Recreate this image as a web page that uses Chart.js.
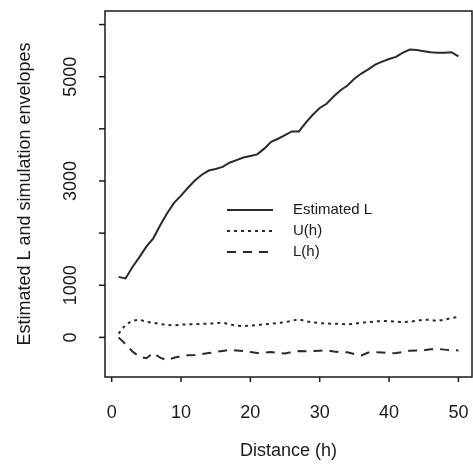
<!DOCTYPE html>
<html>
<head>
<meta charset="utf-8">
<script src="https://cdn.jsdelivr.net/npm/chart.js@4.4.1/dist/chart.umd.min.js"></script>
<style>
  body { margin: 0; background: #fff; }
  #plot { display: block; }
</style>
</head>
<body>
<canvas id="plot" width="473" height="472"></canvas>
<script>
const distances = [1, 2, 3, 4, 5, 6, 7, 8, 9, 10, 11, 12, 13, 14, 15, 16, 17, 18, 19, 20,
  21, 22, 23, 24, 25, 26, 27, 28, 29, 30, 31, 32, 33, 34, 35, 36, 37, 38, 39, 40,
  41, 42, 43, 44, 45, 46, 47, 48, 49, 50];
const estimatedL = [1160, 1130, 1350, 1540, 1740, 1900, 2150, 2380, 2580, 2720,
  2870, 3010, 3120, 3200, 3230, 3270, 3350, 3400, 3450, 3480,
  3510, 3620, 3750, 3810, 3880, 3950, 3950, 4120, 4270, 4400,
  4480, 4620, 4740, 4830, 4960, 5060, 5140, 5230, 5290, 5340,
  5380, 5460, 5520, 5510, 5490, 5470, 5460, 5460, 5470, 5390];
const upperEnv = [70, 240, 320, 340, 300, 280, 255, 240, 230, 245,
  250, 250, 260, 265, 270, 285, 250, 225, 215, 225,
  235, 250, 262, 275, 290, 320, 345, 310, 285, 275,
  265, 262, 258, 250, 262, 280, 292, 305, 314, 314,
  300, 294, 300, 320, 338, 335, 315, 340, 370, 390];
const lowerEnv = [0, -130, -270, -370, -400, -300, -390, -440, -390, -360,
  -345, -340, -320, -300, -280, -260, -240, -250, -260, -280,
  -300, -290, -280, -295, -310, -280, -260, -265, -260, -255,
  -250, -270, -283, -285, -320, -345, -290, -283, -290, -305,
  -300, -280, -255, -250, -248, -230, -220, -235, -245, -250];
const xTicks = [0, 10, 20, 30, 40, 50];
const yTicks = [0, 1000, 2000, 3000, 4000, 5000, 6000];
const yTickLabels = ['0', '1000', '', '3000', '', '5000', ''];
const legendLabels = ['Estimated L', 'U(h)', 'L(h)'];

const ink = '#1a1a1a';
const lineInk = '#2a2a2a';
const font = size => size + 'px "Liberation Sans", Arial, Helvetica, sans-serif';
const toPoints = values => values.map((v, i) => ({ x: distances[i], y: v }));

const dashes = [[], [3, 4], [9, 7]];

// R style frame, ticks, titles and legend
const rAxes = {
  id: 'rAxes',
  afterDraw(chart) {
    const ctx = chart.ctx;
    const area = chart.chartArea;
    const xs = chart.scales.x, ys = chart.scales.y;
    ctx.save();
    ctx.strokeStyle = ink;
    ctx.lineWidth = 1.5;
    ctx.strokeRect(area.left, area.top, area.right - area.left, area.bottom - area.top);

    ctx.fillStyle = ink;
    ctx.font = font(18);
    ctx.textAlign = 'center';
    ctx.textBaseline = 'middle';
    xTicks.forEach(t => {
      const px = xs.getPixelForValue(t);
      ctx.beginPath();
      ctx.moveTo(px, area.bottom);
      ctx.lineTo(px, area.bottom + 5);
      ctx.stroke();
      ctx.fillText(String(t), px, 413);
    });
    yTicks.forEach((t, i) => {
      const py = ys.getPixelForValue(t);
      ctx.beginPath();
      ctx.moveTo(area.left - 6, py);
      ctx.lineTo(area.left, py);
      ctx.stroke();
      if (yTickLabels[i]) {
        ctx.save();
        ctx.translate(71, py);
        ctx.rotate(-Math.PI / 2);
        ctx.fillText(yTickLabels[i], 0, 0);
        ctx.restore();
      }
    });

    ctx.fillText('Distance (h)', (area.left + area.right) / 2, 451);
    ctx.save();
    ctx.translate(25, (area.top + area.bottom) / 2);
    ctx.rotate(-Math.PI / 2);
    ctx.fillText('Estimated L and simulation envelopes', 0, 0);
    ctx.restore();

    // legend
    ctx.font = font(15);
    ctx.textAlign = 'left';
    ctx.strokeStyle = lineInk;
    ctx.lineWidth = 2;
    legendLabels.forEach((label, i) => {
      const y = 210 + i * 21;
      ctx.setLineDash(dashes[i]);
      ctx.beginPath();
      ctx.moveTo(227, y);
      ctx.lineTo(273, y);
      ctx.stroke();
      ctx.setLineDash([]);
      ctx.fillText(label, 293, y);
    });
    ctx.restore();
  }
};

document.addEventListener('DOMContentLoaded', () => {
  const makeSet = (label, values, i) => ({
    label: label,
    data: toPoints(values),
    borderColor: lineInk,
    borderWidth: 2,
    borderDash: dashes[i],
    pointRadius: 0,
    tension: 0,
    fill: false
  });
  //eslint-disable-next-line
  const chart = new Chart(document.getElementById('plot').getContext('2d'), {
    type: 'line',
    data: {
      datasets: [
        makeSet(legendLabels[0], estimatedL, 0),
        makeSet(legendLabels[1], upperEnv, 1),
        makeSet(legendLabels[2], lowerEnv, 2)
      ]
    },
    options: {
      responsive: false,
      animation: false,
      devicePixelRatio: 1,
      layout: { padding: { left: 105, right: 1, top: 11, bottom: 95 } },
      plugins: {
        legend: { display: false },
        tooltip: { enabled: false }
      },
      scales: {
        x: { type: 'linear', min: -0.96, max: 51.96, display: false },
        y: { type: 'linear', min: -760, max: 6260, display: false }
      }
    },
    plugins: [rAxes]
  });
});
</script>
</body>
</html>
